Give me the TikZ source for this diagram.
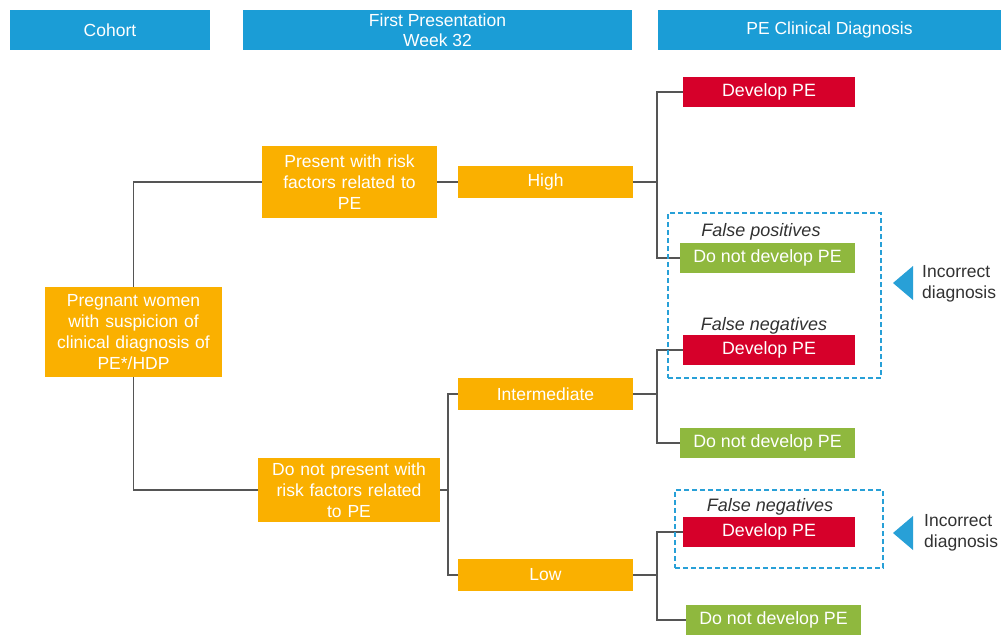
\documentclass[tikz,border=0pt]{standalone}
\usepackage{fontspec}
\setmainfont{Liberation Sans}
\definecolor{hdr}{RGB}{27,157,214}
\definecolor{org}{RGB}{250,176,0}
\definecolor{redb}{RGB}{214,0,42}
\definecolor{grn}{RGB}{143,184,62}
\definecolor{lin}{RGB}{85,85,85}
\definecolor{dash}{RGB}{40,160,215}
\definecolor{txt}{RGB}{50,50,50}
\tikzset{
  hbox/.style={fill=hdr, text=white, inner sep=0pt, align=center, font=\fontsize{17.5}{20}\selectfont},
  obox/.style={fill=org, text=white, inner sep=0pt, align=center, font=\fontsize{17.5}{21}\selectfont},
  rbox/.style={fill=redb, text=white, inner sep=0pt, minimum width=172pt, minimum height=30pt, font=\fontsize{17.8}{20}\selectfont},
  gbox/.style={fill=grn, text=white, inner sep=0pt, minimum width=175pt, minimum height=30pt, font=\fontsize{17.8}{20}\selectfont},
  conn/.style={draw=lin, line width=1.6pt},
  dbox/.style={draw=dash, line width=2pt, dash pattern=on 5pt off 3pt},
  lbl/.style={text=txt, inner sep=0pt, font=\fontsize{18}{20}\selectfont\itshape},
  side/.style={text=txt, inner sep=0pt, align=left, anchor=west, font=\fontsize{17.5}{21}\selectfont},
  tri/.style={fill=dash}
}
\begin{document}
\begin{tikzpicture}[x=1pt,y=-1pt]
\useasboundingbox (0,0) rectangle (1001,635);
\fill[white] (0,0) rectangle (1001,635);
% headers
\node[hbox, minimum width=200pt, minimum height=40pt] (h1) at (110,30) {Cohort};
\node[hbox, minimum width=389pt, minimum height=40pt] (h2) at (437.5,30) {First Presentation\\Week 32};
\node[hbox, minimum width=343pt, minimum height=40pt] (h3) at (829.5,30) {PE Clinical Diagnosis};
% orange boxes
\node[obox, minimum width=177pt, minimum height=90pt, text width=176pt] (preg) at (133.5,332) {Pregnant women\\with suspicion of\\clinical diagnosis of\\PE*/HDP};
\node[obox, minimum width=175pt, minimum height=72pt, text width=174pt] (pres) at (349.5,182) {Present with risk\\factors related to\\PE};
\node[obox, minimum width=182pt, minimum height=64pt, text width=180pt] (dnp) at (349,490) {Do not present with\\risk factors related\\to PE};
\node[obox, minimum width=175pt, minimum height=32pt] (high) at (545.5,182) {High};
\node[obox, minimum width=175pt, minimum height=32pt] (inter) at (545.5,394) {Intermediate};
\node[obox, minimum width=175pt, minimum height=32pt] (low) at (545.5,575) {Low};
% outcomes
\node[rbox] (dev1) at (769,92) {Develop PE};
\node[gbox] (dnd1) at (767.5,258) {Do not develop PE};
\node[rbox] (dev2) at (769,350) {Develop PE};
\node[gbox] (dnd2) at (767.5,443) {Do not develop PE};
\node[rbox] (dev3) at (769,532) {Develop PE};
\node[gbox] (dnd3) at (773.5,620) {Do not develop PE};
% junctions
\coordinate (j1) at (657,182);
\coordinate (j2) at (448,490);
\coordinate (j3) at (657,394);
\coordinate (j4) at (657,575);
% connectors
\draw[conn] (pres.west) -| (preg.north);
\draw[conn] (dnp.west) -| (preg.south);
\draw[conn] (pres.east) -- (high.west);
\draw[conn] (high.east) -- (j1);
\draw[conn] (dev1.west) -| (j1) |- (dnd1.west);
\draw[conn] (dnp.east) -- (j2);
\draw[conn] (inter.west) -| (j2) |- (low.west);
\draw[conn] (inter.east) -- (j3);
\draw[conn] (dev2.west) -| (j3) |- (dnd2.west);
\draw[conn] (low.east) -- (j4);
\draw[conn] (dev3.west) -| (j4) |- (dnd3.west);
% dashed groups
\node[dbox, minimum width=213pt, minimum height=165pt, inner sep=0pt] (g1) at (774.5,295.5) {};
\node[dbox, minimum width=208pt, minimum height=78pt, inner sep=0pt] (g2) at (779,529) {};
% labels
\node[lbl] (fp) at (761,232) {False positives};
\node[lbl] (fn1) at (764,326) {False negatives};
\node[lbl] (fn2) at (770,507) {False negatives};
% incorrect diagnosis
\fill[tri] (893,283) -- (913,266) -- (913,300) -- cycle;
\node[side] (inc1) at (922,284) {Incorrect\\diagnosis};
\fill[tri] (893,533) -- (913,516) -- (913,550) -- cycle;
\node[side] (inc2) at (924,533) {Incorrect\\diagnosis};
\end{tikzpicture}
\end{document}
